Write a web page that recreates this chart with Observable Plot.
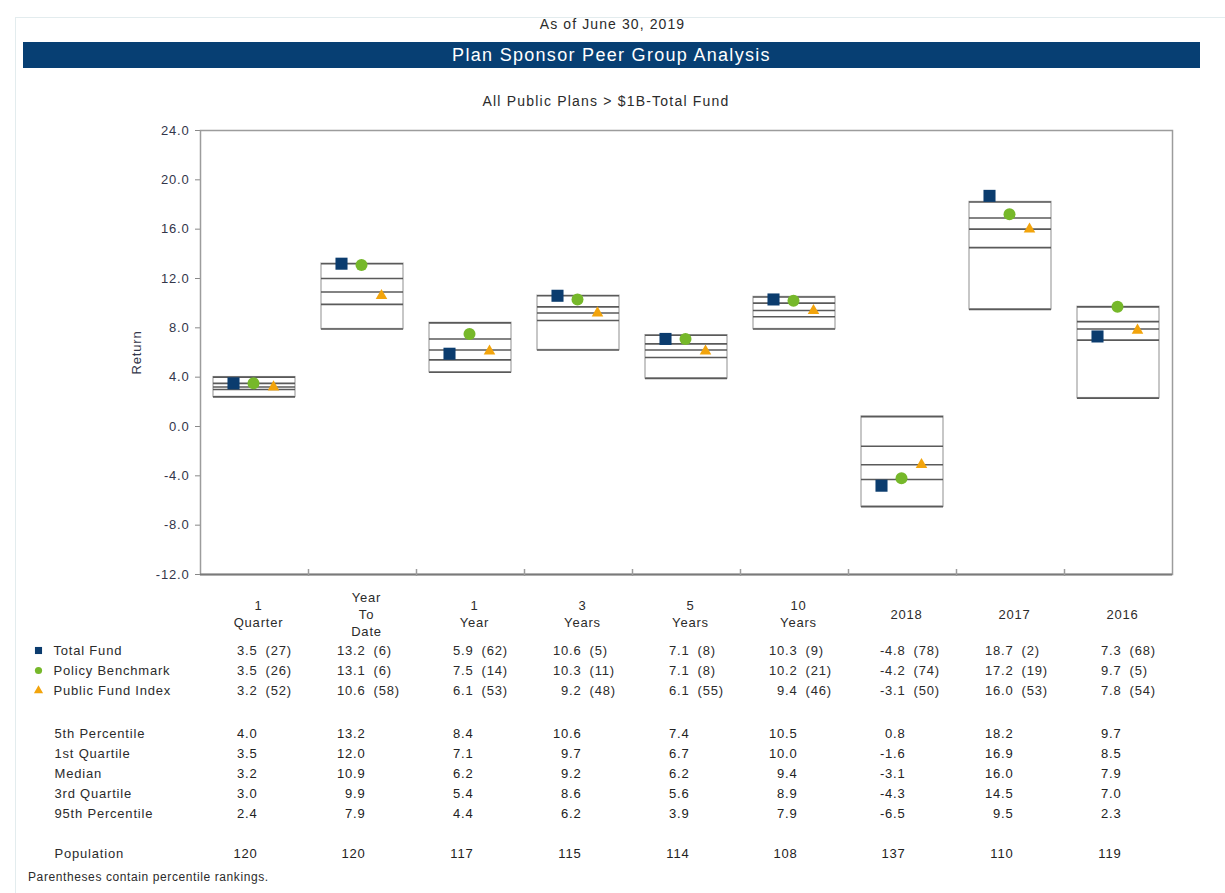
<!DOCTYPE html>
<html>
<head>
<meta charset="utf-8">
<script src="https://cdn.jsdelivr.net/npm/d3@7"></script>
<script src="https://cdn.jsdelivr.net/npm/@observablehq/plot@0.6"></script>
<style>
  html, body { margin: 0; padding: 0; background: #fff; }
  body { width: 1225px; height: 893px; position: relative; overflow: hidden;
         font-family: "Liberation Sans", Arial, sans-serif; color: #2b2b2b; }
  .abs { position: absolute; }
  #border { left: 15px; top: 17px; width: 1215px; height: 880px;
            border-top: 1px solid #e3ecee; border-left: 1px solid #e3ecee; }
  #asof { left: 0; width: 1225px; top: 15px; text-align: center; font-size: 14px; letter-spacing: 1.1px; line-height: 18px; }
  #banner { left: 23px; top: 42px; width: 1177px; height: 26px; background: #073f73;
            color: #fff; text-align: center; font-size: 18px; letter-spacing: 1.3px; line-height: 26px; }
  #subtitle { left: 0; width: 1212px; top: 92px; text-align: center; font-size: 14px; letter-spacing: 1.2px; line-height: 18px; }
  #chart { left: 0; top: 115px; }
  #table { left: 0; top: 585px; }
  #foot { left: 28px; top: 869px; font-size: 12px; letter-spacing: 0.6px; line-height: 16px; }
</style>
</head>
<body>
<div id="border" class="abs"></div>
<div id="asof" class="abs">As of June 30, 2019</div>
<div id="banner" class="abs">Plan Sponsor Peer Group Analysis</div>
<div id="subtitle" class="abs">All Public Plans &gt; $1B-Total Fund</div>
<div id="table" class="abs"></div>
<div id="chart" class="abs"></div>
<div id="foot" class="abs">Parentheses contain percentile rankings.</div>
<script>
// ---------- data ----------
const categories = ["1\nQuarter", "Year\nTo\nDate", "1\nYear", "3\nYears", "5\nYears", "10\nYears", "2018", "2017", "2016"];

const totalFund           = [3.5, 13.2, 5.9, 10.6, 7.1, 10.3, -4.8, 18.7, 7.3];
const totalFundRank       = [27, 6, 62, 5, 8, 9, 78, 2, 68];
const policyBenchmark     = [3.5, 13.1, 7.5, 10.3, 7.1, 10.2, -4.2, 17.2, 9.7];
const policyBenchmarkRank = [26, 6, 14, 11, 8, 21, 74, 19, 5];
const publicFundIndex     = [3.2, 10.6, 6.1, 9.2, 6.1, 9.4, -3.1, 16.0, 7.8];
const publicFundIndexRank = [52, 58, 53, 48, 55, 46, 50, 53, 54];

const pct5      = [4.0, 13.2, 8.4, 10.6, 7.4, 10.5, 0.8, 18.2, 9.7];
const quartile1 = [3.5, 12.0, 7.1, 9.7, 6.7, 10.0, -1.6, 16.9, 8.5];
const median    = [3.2, 10.9, 6.2, 9.2, 6.2, 9.4, -3.1, 16.0, 7.9];
const quartile3 = [3.0, 9.9, 5.4, 8.6, 5.6, 8.9, -4.3, 14.5, 7.0];
const pct95     = [2.4, 7.9, 4.4, 6.2, 3.9, 7.9, -6.5, 9.5, 2.3];
const population = [120, 120, 117, 115, 114, 108, 137, 110, 119];

const yTicks = [-12, -8, -4, 0, 4, 8, 12, 16, 20, 24];

const seriesNames = ["Total Fund", "Policy Benchmark", "Public Fund Index"];
const seriesValues = [totalFund, policyBenchmark, publicFundIndex];
const seriesRanks = [totalFundRank, policyBenchmarkRank, publicFundIndexRank];
const seriesColors = ["#0b3c6e", "#76b82a", "#f2a40c"];
const seriesSymbols = ["square", "circle", "triangle"];

const statNames = ["5th Percentile", "1st Quartile", "Median", "3rd Quartile", "95th Percentile"];
const statValues = [pct5, quartile1, median, quartile3, pct95];

// ---------- derived tables ----------
const boxes = categories.map((c, i) => ({cat: c, p5: pct5[i], p95: pct95[i]}));
const lines = [];
statValues.forEach(arr => arr.forEach((v, i) => lines.push({cat: categories[i], value: v})));

const fontStyle = {fontFamily: "'Liberation Sans', Arial, sans-serif", fontSize: "13px", letterSpacing: "0.8px", color: "#2b2b2b", background: "transparent", overflow: "visible"};

const W = 1225, ML = 200, MR = 53;
const xOpts = {domain: categories, paddingInner: 0.24, paddingOuter: 0.12, axis: null};
const step = (W - ML - MR) / categories.length;

// ---------- chart ----------
const chartH = 470, chartMT = 15, chartMB = 11;
const plotH = chartH - chartMT - chartMB;

const dotMarks = seriesNames.map((name, s) => Plot.dot(
  categories.map((c, i) => ({cat: c, value: seriesValues[s][i]})),
  {x: "cat", y: "value", symbol: seriesSymbols[s], fill: seriesColors[s], stroke: "none",
   r: [6.8, 6, 4.3][s], dx: [-21, -1, 19][s]}
));

const chart = Plot.plot({
  width: W, height: chartH,
  marginLeft: ML, marginRight: MR, marginTop: chartMT, marginBottom: chartMB,
  style: fontStyle,
  x: xOpts,
  y: {domain: [-12, 24]},
  marks: [
    Plot.axisY({ticks: yTicks, tickFormat: d => d.toFixed(1), tickSize: 5, tickPadding: 6,
      stroke: "#888", fill: "#33364a", label: "Return", labelAnchor: "center", labelArrow: "none",
      labelOffset: 69}),
    Plot.frame({stroke: "#9c9c9c", strokeWidth: 1.5}),
    Plot.ruleY([-12], {stroke: "#7a7a7a", strokeWidth: 1.8}),
    Plot.ruleX(categories.slice(0, -1), {dx: step / 2, insetTop: plotH - 5, insetBottom: -2, stroke: "#9c9c9c", strokeWidth: 1.5}),
    Plot.barY(boxes, {x: "cat", y1: "p95", y2: "p5", fill: "white", stroke: "#b5b5b5", strokeWidth: 1.5}),
    Plot.tickY(lines, {x: "cat", y: "value", stroke: "#5a5a5a", strokeWidth: 1.6}),
    ...dotMarks
  ]
});
document.getElementById("chart").append(chart);

// ---------- data table ----------
const rowKeys = ["header", "gapA", ...seriesNames, "gapB", ...statNames, "gapC", "Population"];
const headerCells = categories.map(c => ({cat: c, row: "header", text: c}));
const seriesCells = [];
const rankCells = [];
const statCells = [];
seriesNames.forEach((name, s) => categories.forEach((c, i) => {
  seriesCells.push({cat: c, row: name, text: seriesValues[s][i].toFixed(1)});
  rankCells.push({cat: c, row: name, text: `(${seriesRanks[s][i]})`});
}));
statNames.forEach((name, s) => categories.forEach((c, i) => {
  statCells.push({cat: c, row: name, text: statValues[s][i].toFixed(1)});
}));
categories.forEach((c, i) => statCells.push({cat: c, row: "Population", text: String(population[i])}));

const lowerLabels = [...statNames, "Population"];

const table = Plot.plot({
  width: W, height: 285,
  marginLeft: ML, marginRight: MR, marginTop: 25, marginBottom: 20,
  style: fontStyle,
  x: xOpts,
  y: {type: "point", domain: rowKeys, padding: 0, axis: null},
  marks: [
    Plot.text(headerCells, {x: "cat", y: "row", text: "text", dx: 4, dy: 3, lineHeight: 1.3, fill: "#2b2b2b"}),
    Plot.text(seriesCells, {x: "cat", y: "row", text: "text", textAnchor: "end", dx: 3, fill: "#2b2b2b"}),
    Plot.text(rankCells, {x: "cat", y: "row", text: "text", textAnchor: "start", dx: 11, fill: "#2b2b2b"}),
    Plot.text(statCells, {x: "cat", y: "row", text: "text", textAnchor: "end", dx: 3, dy: 3, fill: "#222"}),
    Plot.text(seriesNames, {y: d => d, text: d => d, frameAnchor: "left", textAnchor: "start", dx: -147, fill: "#2b2b2b"}),
    Plot.text(lowerLabels, {y: d => d, text: d => d, frameAnchor: "left", textAnchor: "start", dx: -146, dy: 3, fill: "#2b2b2b"}),
    ...seriesNames.map((name, s) => Plot.dot([name], {y: d => d, frameAnchor: "left", dx: -162,
      symbol: seriesSymbols[s], fill: seriesColors[s], stroke: "none", r: [4, 3.6, 3.4][s]}))
  ]
});
document.getElementById("table").append(table);
</script>
</body>
</html>
